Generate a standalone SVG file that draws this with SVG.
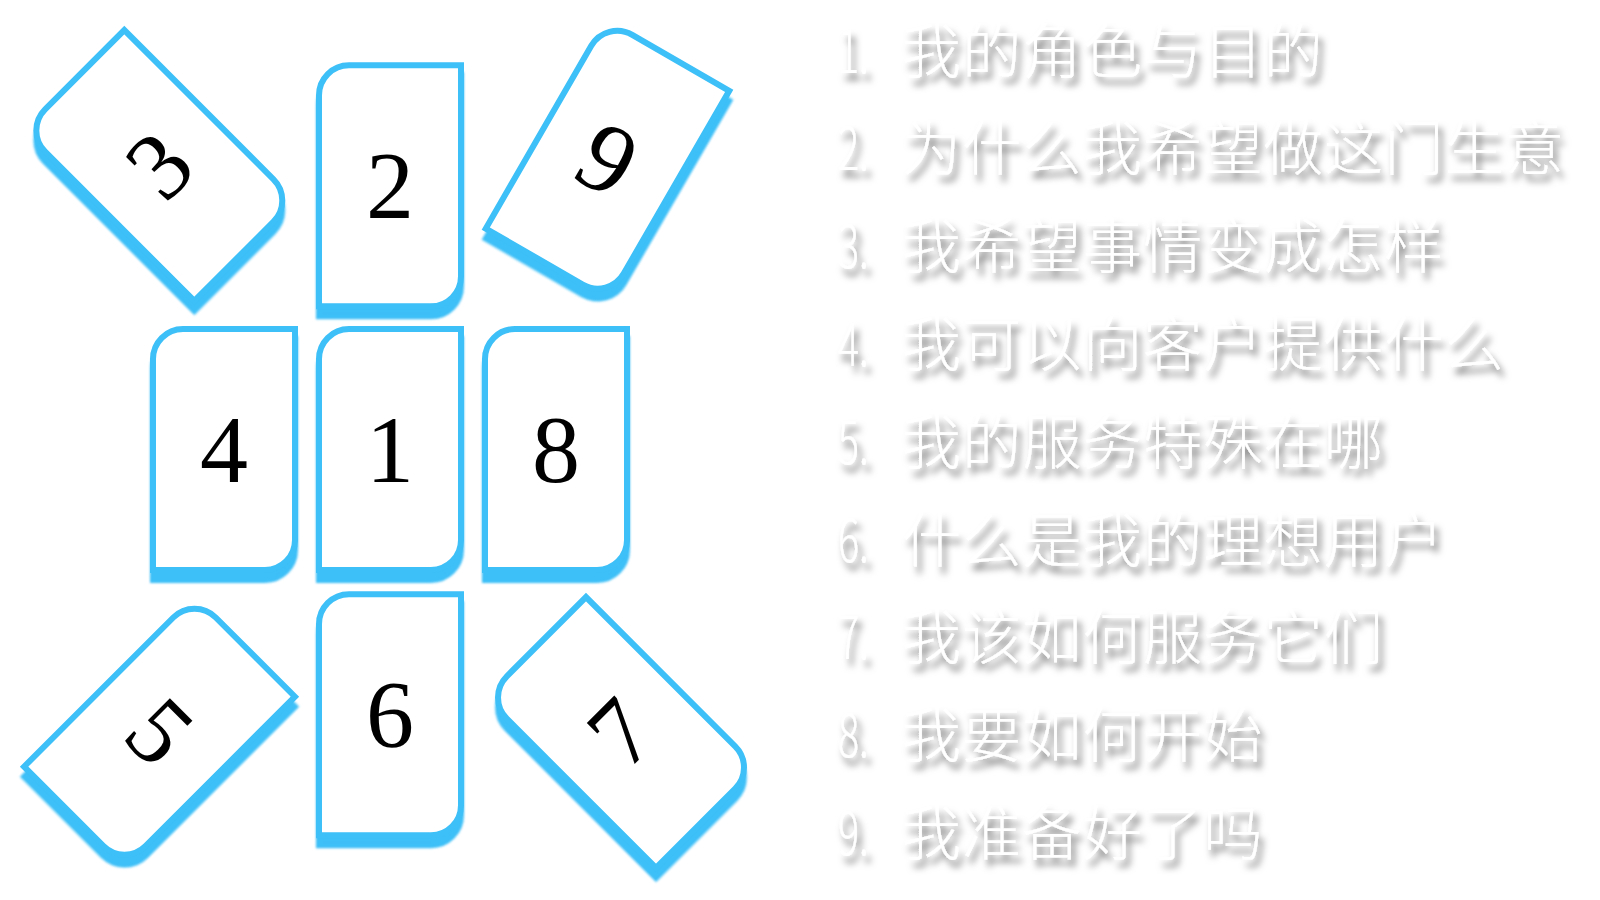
<svg xmlns="http://www.w3.org/2000/svg" xmlns:xlink="http://www.w3.org/1999/xlink" width="1600" height="900" viewBox="0 0 1600 900">
  <defs>
    <style>
      .card { fill: #ffffff; stroke: #3dbff7; stroke-width: 6; stroke-linejoin: miter; }
      .shadow { fill: #3dbff7; stroke: #3dbff7; stroke-width: 6; stroke-linejoin: miter; filter: url(#soft); }
      .num { font-family: "Liberation Serif", "Times New Roman", serif; font-size: 96px; fill: #000000; text-anchor: middle; }
      .item { font-family: "Noto Sans CJK SC Light", "Noto Sans CJK SC", "Noto Sans", sans-serif; font-weight: 300; font-size: 59px; letter-spacing: 1.3px; fill: #ffffff; filter: url(#tshadow); }
      .idx { letter-spacing: 0px; }
    </style>
    <path id="cardShape" d="M -71,-90.5 A 30 30 0 0 1 -41,-120.5 L 71,-120.5 L 71,90.5 A 30 30 0 0 1 41,120.5 L -71,120.5 Z"/>
    <filter id="soft" x="-10%" y="-10%" width="120%" height="120%">
      <feGaussianBlur stdDeviation="0.8"/>
    </filter>
    <filter id="tshadow" x="-5%" y="-30%" width="115%" height="170%">
      <feGaussianBlur in="SourceAlpha" stdDeviation="3.5" result="b"/>
      <feOffset in="b" dx="4" dy="7" result="o"/>
      <feFlood flood-color="#000000" flood-opacity="0.55"/>
      <feComposite in2="o" operator="in" result="s"/>
      <feMerge>
        <feMergeNode in="s"/>
        <feMergeNode in="SourceGraphic"/>
      </feMerge>
    </filter>
  </defs>
  <rect width="1600" height="900" fill="#ffffff"/>

  <g id="cards">
    <g id="card-3">
      <use xlink:href="#cardShape" class="shadow" transform="translate(159.3,175.5) rotate(-45)"/>
      <g transform="translate(159.3,165.5) rotate(-45)">
        <use xlink:href="#cardShape" class="card"/>
        <text class="num" x="0" y="32">3</text>
      </g>
    </g>
    <g id="card-2">
      <use xlink:href="#cardShape" class="shadow" transform="translate(390,195.8)"/>
      <g transform="translate(390,185.8)">
        <use xlink:href="#cardShape" class="card"/>
        <text class="num" x="0" y="32">2</text>
      </g>
    </g>
    <g id="card-9">
      <use xlink:href="#cardShape" class="shadow" transform="translate(607.5,169.7) rotate(30)"/>
      <g transform="translate(607.5,159.7) rotate(30)">
        <use xlink:href="#cardShape" class="card"/>
        <text class="num" x="0" y="33" style="font-size:100px">9</text>
      </g>
    </g>
    <g id="card-4">
      <use xlink:href="#cardShape" class="shadow" transform="translate(224,459.5)"/>
      <g transform="translate(224,449.5)">
        <use xlink:href="#cardShape" class="card"/>
        <text class="num" x="0" y="32">4</text>
      </g>
    </g>
    <g id="card-1">
      <use xlink:href="#cardShape" class="shadow" transform="translate(390,459.5)"/>
      <g transform="translate(390,449.5)">
        <use xlink:href="#cardShape" class="card"/>
        <text class="num" x="0" y="32">1</text>
      </g>
    </g>
    <g id="card-8">
      <use xlink:href="#cardShape" class="shadow" transform="translate(556,459.5)"/>
      <g transform="translate(556,449.5)">
        <use xlink:href="#cardShape" class="card"/>
        <text class="num" x="0" y="32">8</text>
      </g>
    </g>
    <g id="card-5">
      <use xlink:href="#cardShape" class="shadow" transform="translate(159.5,741.7) rotate(45)"/>
      <g transform="translate(159.5,731.7) rotate(45)">
        <use xlink:href="#cardShape" class="card"/>
        <text class="num" x="0" y="32">5</text>
      </g>
    </g>
    <g id="card-6">
      <use xlink:href="#cardShape" class="shadow" transform="translate(390,724.7)"/>
      <g transform="translate(390,714.7)">
        <use xlink:href="#cardShape" class="card"/>
        <text class="num" x="0" y="32">6</text>
      </g>
    </g>
    <g id="card-7">
      <use xlink:href="#cardShape" class="shadow" transform="translate(621,742.5) rotate(-45)"/>
      <g transform="translate(621,732.5) rotate(-45)">
        <use xlink:href="#cardShape" class="card"/>
        <text class="num" x="0" y="32">7</text>
      </g>
    </g>
  </g>

  <g id="questions">
    <text class="item" y="72.5"><tspan class="idx" x="838" textLength="31" lengthAdjust="spacingAndGlyphs">1.</tspan><tspan x="902">我的角色与目的</tspan></text>
    <text class="item" y="170.3"><tspan class="idx" x="838" textLength="31" lengthAdjust="spacingAndGlyphs">2.</tspan><tspan x="902">为什么我希望做这门生意</tspan></text>
    <text class="item" y="268.1"><tspan class="idx" x="838" textLength="31" lengthAdjust="spacingAndGlyphs">3.</tspan><tspan x="902">我希望事情变成怎样</tspan></text>
    <text class="item" y="365.9"><tspan class="idx" x="838" textLength="31" lengthAdjust="spacingAndGlyphs">4.</tspan><tspan x="902">我可以向客户提供什么</tspan></text>
    <text class="item" y="463.7"><tspan class="idx" x="838" textLength="31" lengthAdjust="spacingAndGlyphs">5.</tspan><tspan x="902">我的服务特殊在哪</tspan></text>
    <text class="item" y="561.5"><tspan class="idx" x="838" textLength="31" lengthAdjust="spacingAndGlyphs">6.</tspan><tspan x="902">什么是我的理想用户</tspan></text>
    <text class="item" y="659.3"><tspan class="idx" x="838" textLength="31" lengthAdjust="spacingAndGlyphs">7.</tspan><tspan x="902">我该如何服务它们</tspan></text>
    <text class="item" y="757.1"><tspan class="idx" x="838" textLength="31" lengthAdjust="spacingAndGlyphs">8.</tspan><tspan x="902">我要如何开始</tspan></text>
    <text class="item" y="854.9"><tspan class="idx" x="838" textLength="31" lengthAdjust="spacingAndGlyphs">9.</tspan><tspan x="902">我准备好了吗</tspan></text>
  </g>
</svg>
